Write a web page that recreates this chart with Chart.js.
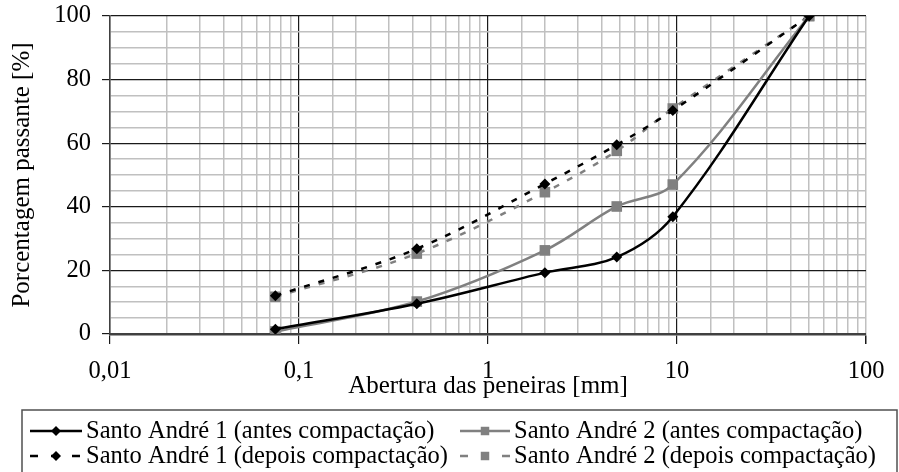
<!DOCTYPE html>
<html>
<head>
<meta charset="utf-8">
<script src="https://cdn.jsdelivr.net/npm/chart.js@4/dist/chart.umd.min.js"></script>
<style>
  html, body { margin: 0; padding: 0; background: #fff; }
  #wrap { width: 899px; height: 472px; }
</style>
</head>
<body>
<div id="wrap"><canvas id="c" width="899" height="472"></canvas></div>
<script>
// Sieve openings [mm] and percent passing for each sample
const sieveSizes = [0.075, 0.42, 2, 4.8, 9.5, 50];
const sa1Before = [1.5, 9.5, 19.3, 24.2, 36.9, 100];
const sa2Before = [0.8, 10.2, 26.3, 40.1, 47.0, 100];
const sa1After  = [12.0, 26.8, 47.2, 59.5, 70.3, 100];
const sa2After  = [11.7, 25.3, 44.6, 57.6, 70.9, 100];

const seriesNames = [
  'Santo André 1 (antes compactação)',
  'Santo André 2 (antes compactação)',
  'Santo André 1 (depois compactação)',
  'Santo André 2 (depois compactação)'
];

const xDecades = [0.01, 0.1, 1, 10, 100];
const xDecadeLabels = ['0,01', '0,1', '1', '10', '100'];
const yMajorTicks = [0, 20, 40, 60, 80, 100];

const FONT = 'Liberation Serif';
const BLACK = '#000000';
const GRAY = '#808080';

const toPoints = ys => sieveSizes.map((x, i) => ({ x: x, y: ys[i] }));

function isDecade(v) {
  const l = Math.log10(v);
  return Math.abs(l - Math.round(l)) < 1e-9;
}
function decadeIndex(v) {
  return xDecades.findIndex(d => Math.abs(d - v) / d < 1e-9);
}

function series(name, ys, color, style, dashed) {
  return {
    label: name,
    data: toPoints(ys),
    borderColor: color,
    backgroundColor: color,
    borderWidth: 2.5,
    borderDash: dashed ? [6, 9] : [],
    pointStyle: style,
    pointRadius: style === 'rect' ? 7.5 : 5.5,
    pointBorderWidth: 0,
    pointBackgroundColor: color,
    tension: 0.35,
    fill: false
  };
}

// Legend drawn as a bordered box below the axis title
const boxLegend = {
  id: 'boxLegend',
  afterDraw(chart) {
    const ctx = chart.ctx;
    const ds = chart.data.datasets;
    const left = 22, top = 410, right = 897, bottom = 474;
    ctx.save();
    ctx.strokeStyle = '#505050';
    ctx.lineWidth = 1.5;
    ctx.strokeRect(left, top, right - left, bottom - top);
    const slots = [
      { x0: 30, x1: 82, tx: 86, y: 431 },
      { x0: 460, x1: 510, tx: 514, y: 431 },
      { x0: 30, x1: 82, tx: 86, y: 456 },
      { x0: 460, x1: 510, tx: 514, y: 456 }
    ];
    ds.forEach((d, i) => {
      const s = slots[i];
      ctx.strokeStyle = d.borderColor;
      ctx.lineWidth = d.borderWidth;
      ctx.setLineDash(d.borderDash.length ? [8, 13] : []);
      ctx.beginPath();
      ctx.moveTo(s.x0, s.y);
      ctx.lineTo(s.x1, s.y);
      ctx.stroke();
      ctx.setLineDash([]);
      ctx.fillStyle = d.pointBackgroundColor;
      Chart.helpers.drawPoint(ctx, {
        pointStyle: d.pointStyle,
        radius: d.pointStyle === 'rect' ? 6 : 5,
        borderWidth: 0,
        rotation: 0
      }, (s.x0 + s.x1) / 2, s.y);
      ctx.fillStyle = '#000';
      ctx.font = '24.5px "' + FONT + '"';
      ctx.textBaseline = 'middle';
      ctx.textAlign = 'left';
      ctx.fillText(d.label, s.tx, s.y + 1);
    });
    ctx.restore();
  }
};

new Chart(document.getElementById('c'), {
  type: 'line',
  data: {
    datasets: [
      series(seriesNames[0], sa1Before, BLACK, 'rectRot', false),
      series(seriesNames[1], sa2Before, GRAY, 'rect', false),
      series(seriesNames[2], sa1After, BLACK, 'rectRot', true),
      series(seriesNames[3], sa2After, GRAY, 'rect', true)
    ]
  },
  options: {
    responsive: false,
    animation: false,
    devicePixelRatio: 1,
    layout: { padding: { top: 16, right: 33, bottom: 62, left: 0 } },
    plugins: {
      legend: { display: false },
      tooltip: { enabled: false }
    },
    scales: {
      x: {
        type: 'logarithmic',
        min: 0.01,
        max: 100,
        afterFit(scale) {
          scale.height = 76;
          scale.paddingLeft = 0;
          scale.paddingRight = 0;
        },
        ticks: {
          autoSkip: false,
          maxRotation: 0,
          padding: 13,
          color: '#000',
          font: { family: FONT, size: 24.5 },
          callback(v) {
            const i = decadeIndex(v);
            return i >= 0 ? xDecadeLabels[i] : '';
          }
        },
        grid: {
          color(c) {
            const v = c.tick && c.tick.value;
            if (v === undefined) return '#c0c0c0';
            return isDecade(v) && v < 100 ? '#1a1a1a' : '#c0c0c0';
          },
          lineWidth(c) {
            const v = c.tick && c.tick.value;
            return v !== undefined && isDecade(v) && v < 100 ? 1.2 : 1.5;
          },
          tickLength: 10,
          tickColor(c) {
            const v = c.tick && c.tick.value;
            return v !== undefined && isDecade(v) ? '#1a1a1a' : 'rgba(0,0,0,0)';
          }
        },
        border: { color: '#404040', width: 2.5 },
        title: {
          display: true,
          text: 'Abertura das peneiras [mm]',
          color: '#000',
          font: { family: FONT, size: 25 },
          padding: { top: 0, bottom: 9 }
        }
      },
      y: {
        min: 0,
        max: 100,
        afterFit(scale) {
          scale.width = 110;
          scale.paddingTop = 0;
          scale.paddingBottom = 0;
        },
        ticks: {
          stepSize: 5,
          autoSkip: false,
          padding: 11,
          color: '#000',
          font: { family: FONT, size: 24.5 },
          callback(v) { return yMajorTicks.includes(v) ? String(v) : ''; }
        },
        grid: {
          color(c) {
            const v = c.tick && c.tick.value;
            return yMajorTicks.includes(v) ? '#1a1a1a' : '#c0c0c0';
          },
          lineWidth(c) {
            const v = c.tick && c.tick.value;
            return yMajorTicks.includes(v) ? 1.2 : 1.5;
          },
          tickLength: 8,
          tickColor(c) {
            const v = c.tick && c.tick.value;
            return yMajorTicks.includes(v) ? '#1a1a1a' : 'rgba(0,0,0,0)';
          }
        },
        border: { color: '#404040', width: 1.5 },
        title: {
          display: true,
          text: 'Porcentagem passante [%]',
          color: '#000',
          font: { family: FONT, size: 25 },
          padding: { top: 7, bottom: 0 }
        }
      }
    }
  },
  plugins: [boxLegend]
});
</script>
</body>
</html>
